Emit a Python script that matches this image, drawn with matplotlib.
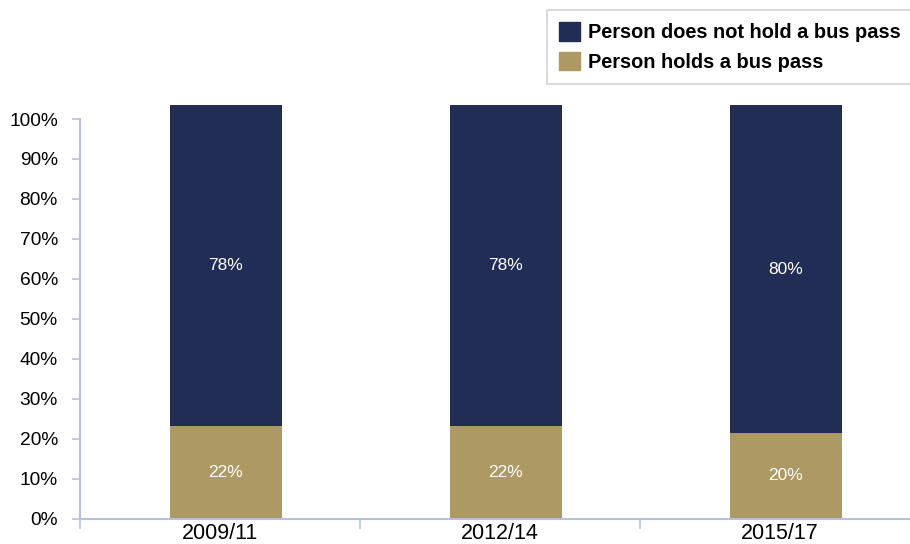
import matplotlib
matplotlib.use("Agg")
import matplotlib.pyplot as plt
import numpy as np
from matplotlib.patches import Patch

# data
periods = ["2009/11", "2012/14", "2015/17"]
holds_pass = [23.2, 23.2, 21.3]          # drawn heights (%)
no_pass = [80.3, 80.3, 82.2]
holds_labels = ["22%", "22%", "20%"]
no_pass_labels = ["78%", "78%", "80%"]

navy = "#222d55"
gold = "#ad9964"
axis_col = "#b8c0dc"

plt.rcParams["font.family"] = ["Liberation Sans", "DejaVu Sans"]

fig = plt.figure(figsize=(9.10, 5.44), dpi=100)
ax = fig.add_axes([80 / 910, (544 - 518.5) / 544, 840 / 910, 399.5 * 1.1 / 544])

x = np.arange(len(periods))
xb = x + 0.021   # bars sit a touch right of the category centre
w = 0.4
ax.bar(xb, holds_pass, w, color=gold, edgecolor="none")
ax.bar(xb, no_pass, w, bottom=holds_pass, color=navy, edgecolor="none")

for i in range(len(periods)):
    ax.text(xb[i], holds_pass[i] / 2, holds_labels[i], ha="center", va="center",
            color="white", fontsize=12.5)
    ax.text(xb[i], holds_pass[i] + no_pass[i] / 2, no_pass_labels[i], ha="center",
            va="center", color="white", fontsize=12.5)

ax.set_xlim(-0.5, 2.5)
ax.set_ylim(0, 110)
ax.set_yticks(range(0, 101, 10))
ax.set_yticklabels([f"{v}%" for v in range(0, 101, 10)])

ax.set_xticks(x)
ax.set_xticklabels(periods)
ax.set_xticks([-0.5, 0.5, 1.5], minor=True)
ax.tick_params(axis="x", which="major", length=0, labelsize=15.5, pad=3)
ax.tick_params(axis="x", which="minor", length=7, color=axis_col, width=1.2)
ax.tick_params(axis="y", length=6, color=axis_col, width=1.2, labelsize=13.8, pad=10)

for s in ["top", "right"]:
    ax.spines[s].set_visible(False)
for s in ["left", "bottom"]:
    ax.spines[s].set_color(axis_col)
    ax.spines[s].set_linewidth(1.5)
ax.spines["left"].set_bounds(0, 100)

handles = [Patch(color=navy), Patch(color=gold)]
leg = fig.legend(handles, ["Person does not hold a bus pass", "Person holds a bus pass"],
                 loc="upper left", bbox_to_anchor=(547 / 910, 1 - 10 / 544),
                 frameon=True, fancybox=False, handlelength=1.05,
                 handleheight=1.05, handletextpad=0.4, labelspacing=0.45,
                 borderpad=0.62, borderaxespad=0,
                 prop={"weight": "bold", "size": 14.4})
leg.get_frame().set_edgecolor("#c8c8d8")
leg.get_frame().set_linewidth(1.2)

fig.savefig("out.png", dpi=100)
